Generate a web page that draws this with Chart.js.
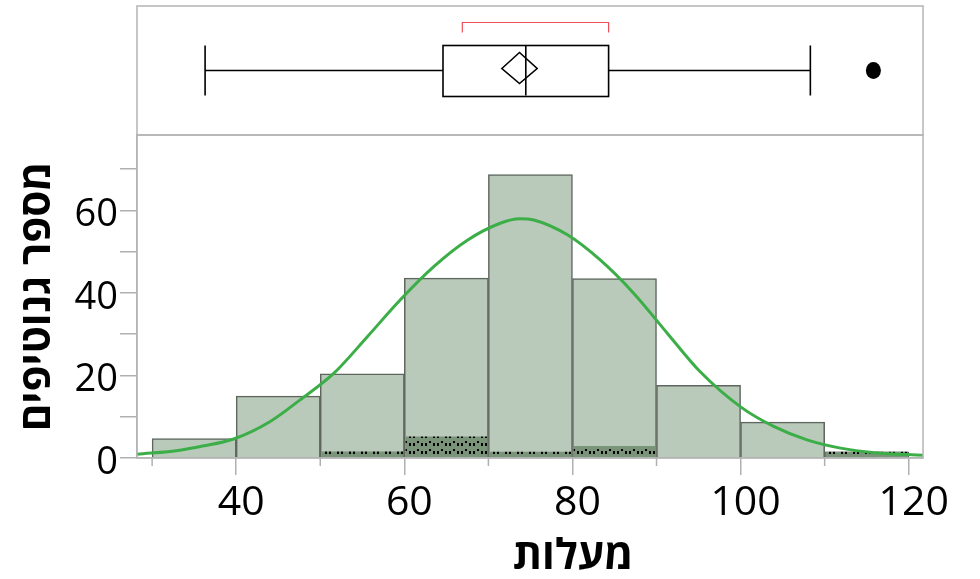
<!DOCTYPE html>
<html>
<head>
<meta charset="utf-8">
<script src="https://cdn.jsdelivr.net/npm/chart.js@4"></script>
<style>
  html, body { margin: 0; padding: 0; background: #fff; }
  #chart { display: block; }
</style>
</head>
<body>
<canvas id="chart" width="980" height="579"></canvas>
<script>
/* Distribution: histogram + normal fit + outlier box plot */

// histogram bins (10 wide)
const binCenters = [35, 45, 55, 65, 75, 85, 95, 105, 115];
const binCounts = [4.7, 15, 20.4, 43.6, 68.7, 43.5, 17.6, 8.7, 1.5];
const selectedCounts = [0, 0, 1.6, 5.2, 1.5, 2.9, 0, 0, 1.5];

// fitted normal curve
const curveX = [28.2, 33.3, 36, 39.7, 44, 47.6, 51.6, 55.6, 59.5, 63.5, 67.5, 71.4, 73.7, 75.4, 79.4, 83.3, 87.3, 91.3, 95.2, 100, 104, 107.9, 111.9, 115.9, 121.7];
const curveY = [0.9, 1.9, 2.9, 4.6, 8.8, 14.1, 20.5, 29.4, 38.3, 46.4, 52.8, 56.9, 58.0, 57.7, 54.1, 48.0, 39.9, 30.2, 20.9, 12.4, 7.6, 4.4, 2.4, 1.3, 0.65];

// box plot: low whisker, Q1, median, Q3, high whisker
const boxStats = [36.3, 64.6, 74.45, 84.3, 108.3];
const meanDiamond = [71.6, 73.7, 75.8];
const shortestHalf = [66.9, 84.3];
const outliers = [115.8];

// axes
const xRange = [28.2, 121.7];
const yRange = [0, 78.3];
const xMajorTicks = [40, 60, 80, 100, 120];
const xMinorTicks = [30, 50, 70, 90, 110];
const yTicks = [0, 10, 20, 30, 40, 50, 60, 70];
const yLabeled = [0, 20, 40, 60];

const xTitle = 'מעלות';
const yTitle = 'מספר גנוטיפים';

const FONT = "'Open Sans', 'DejaVu Sans', sans-serif";

function makeDither() {
  const c = document.createElement('canvas');
  c.width = 12; c.height = 8;
  const g = c.getContext('2d');
  g.fillStyle = '#7a947a';
  g.fillRect(0, 0, 12, 8);
  g.fillStyle = '#000';
  g.fillRect(1, 3, 2, 3);
  g.fillRect(5, 3, 2, 3);
  g.fillRect(9, 1, 2, 2);
  return g.createPattern(c, 'repeat');
}

const panels = {
  id: 'panels',
  beforeDraw(chart) {
    const ctx = chart.ctx;
    ctx.save();
    ctx.fillStyle = '#fff';
    ctx.fillRect(0, 0, chart.width, chart.height);
    ctx.restore();
  },
  afterDraw(chart) {
    const ctx = chart.ctx;
    const a = chart.chartArea;
    const x = chart.scales.x;
    const boxTop = 6;
    const mid = (boxTop + a.top) / 2;
    ctx.save();

    // minor x ticks
    ctx.strokeStyle = '#b0b0b0';
    ctx.lineWidth = 1.5;
    xMinorTicks.forEach(v => {
      const px = x.getPixelForValue(v);
      ctx.beginPath();
      ctx.moveTo(px, a.bottom);
      ctx.lineTo(px, a.bottom + 8);
      ctx.stroke();
    });

    // panel frames
    ctx.strokeStyle = '#b4b4b4';
    ctx.lineWidth = 1.5;
    ctx.strokeRect(a.left, a.top, a.right - a.left, a.bottom - a.top);
    ctx.strokeRect(a.left, boxTop, a.right - a.left, a.top - boxTop);

    // box plot
    const px = v => x.getPixelForValue(v);
    ctx.strokeStyle = '#000';
    ctx.lineWidth = 1.6;
    ctx.beginPath();
    ctx.moveTo(px(boxStats[0]), mid); ctx.lineTo(px(boxStats[1]), mid);
    ctx.moveTo(px(boxStats[3]), mid); ctx.lineTo(px(boxStats[4]), mid);
    ctx.moveTo(px(boxStats[0]), mid - 25); ctx.lineTo(px(boxStats[0]), mid + 25);
    ctx.moveTo(px(boxStats[4]), mid - 25); ctx.lineTo(px(boxStats[4]), mid + 25);
    ctx.moveTo(px(boxStats[2]), mid - 25); ctx.lineTo(px(boxStats[2]), mid + 25);
    ctx.stroke();
    ctx.strokeRect(px(boxStats[1]), mid - 25, px(boxStats[3]) - px(boxStats[1]), 51);

    // mean diamond
    ctx.beginPath();
    ctx.moveTo(px(meanDiamond[0]), mid - 2);
    ctx.lineTo(px(meanDiamond[1]), mid - 18);
    ctx.lineTo(px(meanDiamond[2]), mid - 2);
    ctx.lineTo(px(meanDiamond[1]), mid + 13);
    ctx.closePath();
    ctx.stroke();

    // shortest half bracket
    ctx.strokeStyle = '#f0505a';
    ctx.lineWidth = 1.2;
    ctx.beginPath();
    ctx.moveTo(px(shortestHalf[0]), mid - 38);
    ctx.lineTo(px(shortestHalf[0]), mid - 48);
    ctx.lineTo(px(shortestHalf[1]), mid - 48);
    ctx.lineTo(px(shortestHalf[1]), mid - 38);
    ctx.stroke();

    // outliers
    ctx.fillStyle = '#000';
    outliers.forEach(v => {
      ctx.beginPath();
      ctx.ellipse(px(v), mid, 7.5, 8.5, 0, 0, Math.PI * 2);
      ctx.fill();
    });

    // x axis title
    ctx.fillStyle = '#000';
    ctx.font = 'bold 42px ' + FONT;
    ctx.textAlign = 'center';
    ctx.textBaseline = 'alphabetic';
    ctx.fillText(xTitle, 573, 569);
    ctx.restore();
  }
};

const ctx = document.getElementById('chart');
new Chart(ctx, {
  type: 'bar',
  data: {
    datasets: [
      {
        type: 'line',
        data: curveX.map((v, i) => ({ x: v, y: curveY[i] })),
        borderColor: '#3bae47',
        borderWidth: 3,
        pointRadius: 0,
        cubicInterpolationMode: 'monotone',
        order: 0
      },
      {
        data: binCenters.map((v, i) => ({ x: v, y: selectedCounts[i] })),
        backgroundColor: makeDither(),
        borderWidth: 0,
        grouped: false,
        barPercentage: 0.97,
        categoryPercentage: 1,
        order: 1
      },
      {
        data: binCenters.map((v, i) => ({ x: v, y: binCounts[i] })),
        backgroundColor: '#b9cabb',
        borderColor: '#5e665e',
        borderWidth: 1.5,
        grouped: false,
        barPercentage: 1,
        categoryPercentage: 1,
        order: 2
      }
    ]
  },
  options: {
    responsive: false,
    animation: false,
    layout: { padding: { top: 135, right: 57, left: 0, bottom: 0 } },
    plugins: {
      legend: { display: false },
      tooltip: { enabled: false }
    },
    scales: {
      x: {
        type: 'linear',
        min: xRange[0],
        max: xRange[1],
        offset: false,
        afterBuildTicks: s => { s.ticks = xMajorTicks.map(v => ({ value: v })); },
        afterFit: s => { s.height = 121; },
        grid: { offset: false, drawOnChartArea: false, tickLength: 17, color: '#b0b0b0', lineWidth: 1.5 },
        border: { color: '#b4b4b4', width: 1.5 },
        ticks: {
          color: '#000',
          font: { family: FONT, size: 41 },
          padding: 4,
          labelOffset: 5,
          maxRotation: 0,
          autoSkip: false
        }
      },
      y: {
        min: yRange[0],
        max: yRange[1],
        afterBuildTicks: s => { s.ticks = yTicks.map(v => ({ value: v })); },
        afterFit: s => { s.width = 137; },
        grid: { drawOnChartArea: false, tickLength: 17, color: '#b0b0b0', lineWidth: 1.5 },
        border: { color: '#b4b4b4', width: 1.5 },
        ticks: {
          color: '#000',
          font: { family: FONT, size: 38 },
          padding: 2,
          labelOffset: 5,
          autoSkip: false,
          callback: v => yLabeled.includes(v) ? String(v) : ''
        },
        title: {
          display: true,
          text: yTitle,
          color: '#000',
          font: { family: FONT, size: 42, weight: 'bold' },
          padding: { top: 13, bottom: 0 }
        }
      }
    }
  },
  plugins: [panels]
});
</script>
</body>
</html>
